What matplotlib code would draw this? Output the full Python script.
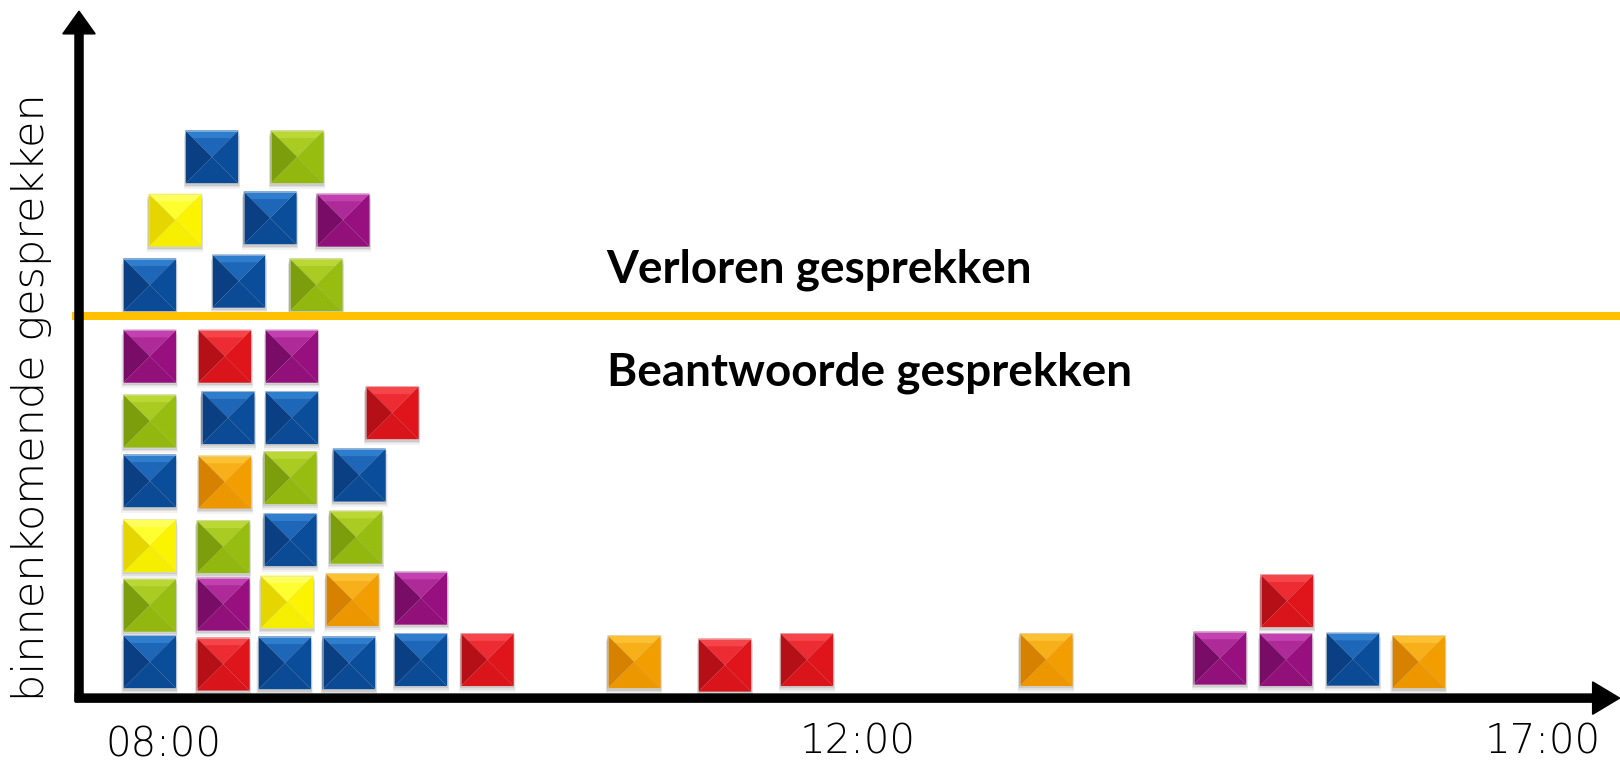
import matplotlib
matplotlib.use("Agg")
import matplotlib.pyplot as plt
from matplotlib.patches import Polygon, Rectangle

# each incoming call: position on the time axis, stack height, colour
call_x = [1.31, 2.67, 3.81, 5.00, 6.33, 7.56,
          1.31, 2.67, 3.85, 5.06, 6.33,
          1.31, 2.67, 3.91, 5.13,
          1.31, 2.70, 3.91, 5.19,
          1.31, 2.76, 3.94, 5.80,
          1.31, 2.70, 3.94,
          1.31, 2.96, 4.39,
          1.78, 3.54, 4.89,
          2.46, 4.04,
          10.28, 11.96, 13.48, 17.91, 21.13, 22.35, 22.37, 23.59, 24.81]
call_y = [0.65, 0.61, 0.63, 0.63, 0.69, 0.69,
          1.70, 1.72, 1.76, 1.80, 1.83,
          2.80, 2.78, 2.91, 2.96,
          4.00, 3.98, 4.06, 4.11,
          5.11, 5.17, 5.17, 5.26,
          6.31, 6.31, 6.31,
          7.63, 7.70, 7.63,
          8.83, 8.87, 8.83,
          10.0, 10.0,
          0.65, 0.59, 0.69, 0.69, 0.72, 0.69, 1.78, 0.70, 0.65]
call_color = ['blue', 'red', 'blue', 'blue', 'blue', 'red',
              'green', 'purple', 'yellow', 'orange', 'purple',
              'yellow', 'green', 'blue', 'green',
              'blue', 'orange', 'green', 'blue',
              'green', 'blue', 'blue', 'red',
              'purple', 'red', 'purple',
              'blue', 'blue', 'green',
              'yellow', 'blue', 'purple',
              'blue', 'green',
              'orange', 'red', 'red', 'orange', 'purple', 'purple', 'red', 'blue', 'orange']

capacity = 7.06  # boven deze lijn gaan gesprekken verloren
tick_pos = [1.56, 14.41, 27.11]
tick_labels = ['08:00', '12:00', '17:00']
tick_y = [-0.88, -0.83, -0.84]

# shades: highlight, top, left, right, bottom
shades = {
    'blue':   ['#3f90e0', '#1d66b8', '#0a3f84', '#0a4e9b', '#0b4a94'],
    'green':  ['#c8e246', '#aacb22', '#7c9e0c', '#97bd10', '#92b80f'],
    'yellow': ['#ffff80', '#ffff30', '#e6d600', '#fbf300', '#f6ee00'],
    'purple': ['#d653c4', '#ae2a98', '#780c66', '#981080', '#921079'],
    'red':    ['#ff5a5e', '#ec2c32', '#b51017', '#e0151b', '#d9141a'],
    'orange': ['#ffd046', '#f8b01a', '#d68200', '#f29d00', '#ec9700'],
}


def block(ax, cx, cy, name, s=0.98):
    hl, top, left, right, bottom = shades[name]
    h = s / 2
    x0, x1, y0, y1 = cx - h, cx + h, cy - h, cy + h
    c = (cx, cy)
    # soft shadow
    for k, a in [(0.10, 0.05), (0.07, 0.07), (0.04, 0.09)]:
        ax.add_patch(Rectangle((x0 - k / 3, y0 - k), s + 2 * k / 3, s,
                               color='black', alpha=a, lw=0, zorder=2))
    ax.add_patch(Polygon([(x0, y1), (x1, y1), c], closed=True, fc=top, ec='none', zorder=3))
    ax.add_patch(Polygon([(x0, y0), (x0, y1), c], closed=True, fc=left, ec='none', zorder=3))
    ax.add_patch(Polygon([(x1, y0), (x1, y1), c], closed=True, fc=right, ec='none', zorder=3))
    ax.add_patch(Polygon([(x0, y0), (x1, y0), c], closed=True, fc=bottom, ec='none', zorder=3))
    # glossy band along the top edge
    d = 0.14
    ax.add_patch(Polygon([(x0, y1), (x1, y1), (x1 - d, y1 - d), (x0 + d, y1 - d)],
                         closed=True, fc=hl, ec='none', alpha=0.55, zorder=4))
    ax.add_patch(Rectangle((x0, y0), s, s, fc='none', ec='#d8d8d8', lw=0.6, alpha=0.6, zorder=4))


fig = plt.figure(figsize=(16.2, 7.61), dpi=100)
ax = fig.add_axes([0, 0, 1, 1])
ax.set_xlim(-1.463, 28.537)
ax.set_ylim(-1.185, 12.907)
ax.axis('off')

for x, y, c in zip(call_x, call_y, call_color):
    block(ax, x, y, c)

# capacity line
ax.plot([-0.13, 28.6], [capacity, capacity], color='#ffc000', lw=5.8, solid_capstyle='butt', zorder=5)

# axes with arrow heads
ax.arrow(0, -0.08, 0, 12.78, width=0.15, head_width=0.6, head_length=0.42,
         length_includes_head=True, fc='black', ec='black', zorder=6)
ax.arrow(-0.07, -0.02, 28.6, 0, width=0.15, head_width=0.6, head_length=0.5,
         length_includes_head=True, fc='black', ec='black', zorder=6)

light = ['DejaVu Sans']
for p, lab, ty in zip(tick_pos, tick_labels, tick_y):
    ax.text(p, ty, lab, ha='center', va='center', fontsize=29, family=light,
            fontweight='light', color='black')

ax.text(-0.88, 5.55, 'binnenkomende gesprekken', rotation=90, ha='center', va='center',
        fontsize=31, family=light, fontweight='light')

bold = ['Lato', 'DejaVu Sans']
ax.text(9.77, 7.92, 'Verloren gesprekken', ha='left', va='center', fontsize=33,
        family=bold, fontweight='bold')
ax.text(9.77, 6.0, 'Beantwoorde gesprekken', ha='left', va='center', fontsize=33,
        family=bold, fontweight='bold')

fig.savefig('out.png', dpi=100, facecolor='white')
